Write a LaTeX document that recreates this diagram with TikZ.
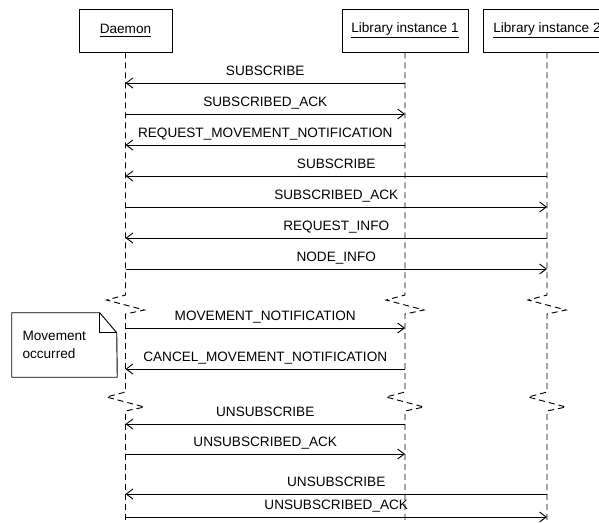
\documentclass[tikz,border=0pt]{standalone}
\usepackage{fontspec}
\setmainfont{Liberation Sans}
\usetikzlibrary{arrows.meta}

\tikzset{
  actor/.style={draw, line width=0.7pt, minimum height=32.25pt, inner sep=0pt, font=\fontsize{10.2}{12}\selectfont},
  lifeline/.style={dash pattern=on 4.5pt off 3pt, line width=0.7pt},
  msg/.style={-{Straight Barb[length=5pt,width=7.5pt]}, line width=0.7pt},
  lbl/.style={midway, above, inner xsep=0pt, inner ysep=5.25pt, text depth=0pt, font=\fontsize{10.2}{12}\selectfont},
  notetext/.style={minimum width=78.75pt, minimum height=48pt, text width=63pt, align=left, inner xsep=7.5pt, font=\fontsize{10.2}{13}\selectfont},
}

\begin{document}
\begin{tikzpicture}[x=0.75pt,y=0.75pt,yscale=-1,xscale=1]
\useasboundingbox (0,0) rectangle (599,522);
% Actors
\node[actor, minimum width=69.75pt] (daemon) at (125.5,30.5) {\underline{Daemon}};
\node[actor, minimum width=94.5pt] (lib1) at (405,30.5) {\underline{Library instance 1}};
\node[actor, minimum width=96pt] (lib2) at (547,30.5) {\underline{Library instance 2}};
% Lifelines, broken twice
\draw[lifeline] (daemon.south) -- (daemon |- 0,295) -- ++(-19,5) -- ++(38,10) -- ++(-19,4) -- (daemon |- 0,392) -- ++(-19,5) -- ++(38,10) -- ++(-19,4) -- (daemon |- 0,522);
\draw[lifeline] (lib1.south) -- (lib1 |- 0,295) -- ++(-19,5) -- ++(38,10) -- ++(-19,4) -- (lib1 |- 0,392) -- ++(-19,5) -- ++(38,10) -- ++(-19,4) -- (lib1 |- 0,522);
\draw[lifeline] (lib2.south) -- (lib2 |- 0,295) -- ++(-19,5) -- ++(38,10) -- ++(-19,4) -- (lib2 |- 0,392) -- ++(-19,5) -- ++(38,10) -- ++(-19,4) -- (lib2 |- 0,522);
% Messages
\draw[msg] (lib1 |- 0,83) -- (daemon |- 0,83) node[lbl] {SUBSCRIBE};
\draw[msg] (daemon |- 0,114) -- (lib1 |- 0,114) node[lbl] {SUBSCRIBED\_ACK};
\draw[msg] (lib1 |- 0,145) -- (daemon |- 0,145) node[lbl] {REQUEST\_MOVEMENT\_NOTIFICATION};
\draw[msg] (lib2 |- 0,176) -- (daemon |- 0,176) node[lbl] {SUBSCRIBE};
\draw[msg] (daemon |- 0,207) -- (lib2 |- 0,207) node[lbl] {SUBSCRIBED\_ACK};
\draw[msg] (lib2 |- 0,238) -- (daemon |- 0,238) node[lbl] {REQUEST\_INFO};
\draw[msg] (daemon |- 0,269) -- (lib2 |- 0,269) node[lbl] {NODE\_INFO};
\draw[msg] (daemon |- 0,328) -- (lib1 |- 0,328) node[lbl] {MOVEMENT\_NOTIFICATION};
\draw[msg] (lib1 |- 0,369) -- (daemon |- 0,369) node[lbl] {CANCEL\_MOVEMENT\_NOTIFICATION};
\draw[msg] (lib1 |- 0,424) -- (daemon |- 0,424) node[lbl] {UNSUBSCRIBE};
\draw[msg] (daemon |- 0,454) -- (lib1 |- 0,454) node[lbl] {UNSUBSCRIBED\_ACK};
\draw[msg] (lib2 |- 0,494) -- (daemon |- 0,494) node[lbl] {UNSUBSCRIBE};
\draw[msg] (daemon |- 0,517) -- (lib2 |- 0,517) node[lbl] {UNSUBSCRIBED\_ACK};
% Note
\node[notetext] (note) at (64.5,345) {Movement\\occurred};
\draw[line width=0.7pt] (note.south west) -- (note.north west) -- ++(88,0) coordinate (foldtop) -- ++(17,20) coordinate (foldside) -- (note.south east) -- cycle;
\draw[line width=0.7pt] (foldtop) -- (foldtop |- foldside) -- (foldside);
\end{tikzpicture}
\end{document}
